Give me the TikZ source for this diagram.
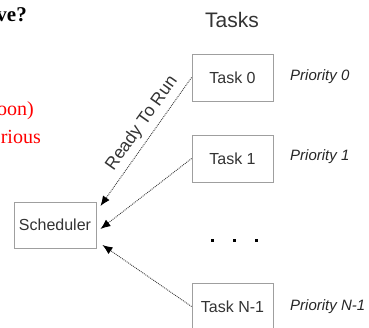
\documentclass[tikz,border=0pt]{standalone}
\usepackage{fontspec}
\setmainfont{Liberation Serif}
\setsansfont{Liberation Sans}
\usetikzlibrary{arrows.meta}

\begin{document}
\begin{tikzpicture}[x=1pt,y=-1pt,font=\sffamily\fontsize{16}{19}\selectfont,
	taskbox/.style={draw=gray!75, line width=0.9pt, minimum width=81pt, minimum height=47pt, inner sep=0pt, text=black!80},
	prio/.style={anchor=west, inner sep=0pt, text=black!85, font=\sffamily\itshape\fontsize{15}{18}\selectfont},
	slide/.style={anchor=base east, inner sep=0pt, font=\rmfamily\fontsize{20}{23}\selectfont},
	ready/.style={densely dotted, line width=0.9pt, gray!45!black, -{Latex[length=10pt,width=8pt,black]}}]
	% Bordo della pagina
	\useasboundingbox (0,0) rectangle (369,327);
	\clip (0,0) rectangle (369,327);

	% Resti del testo della slide
	\node[slide, font=\rmfamily\bfseries\fontsize{21}{24}\selectfont] (q)  at (27,21)  {ve?};
	\node[slide, text=red] (r1) at (34,115) {oon)};
	\node[slide, text=red] (r2) at (41,143) {rious};

	% Scheduler e task
	\node[font=\sffamily\fontsize{21}{25}\selectfont, text=black!80] (tasks) at (232,20) {Tasks};
	\node[taskbox, minimum width=82pt, minimum height=46pt] (sched) at (55,225) {Scheduler};
	\node[taskbox] (t0) at (232.5,77.5)  {Task 0};
	\node[taskbox] (t1) at (232.5,158.5) {Task 1};
	\node[taskbox] (tn) at (232.5,306.5) {Task N-1};

	% Priorita'
	\node[prio] (p0) at (290,77)  {Priority 0};
	\node[prio] (p1) at (290,157) {Priority 1};
	\node[prio] (pn) at (290,307) {Priority N-1};

	% Puntini
	\foreach \x in {212,234,256}
		\fill (\x-1.5,238.5) rectangle (\x+1.5,241.5);

	% Frecce
	\draw[ready] (t0.west) -- node[sloped, above=2pt, pos=0.42, text=black!80, font=\sffamily\fontsize{17.5}{20}\selectfont] {Ready To Run} ([shift={(4,-19)}]sched.east);
	\draw[ready] (t1.west) -- ([shift={(4,4)}]sched.east);
	\draw[ready] (tn.west) -- ([shift={(6,20)}]sched.east);
\end{tikzpicture}
\end{document}
